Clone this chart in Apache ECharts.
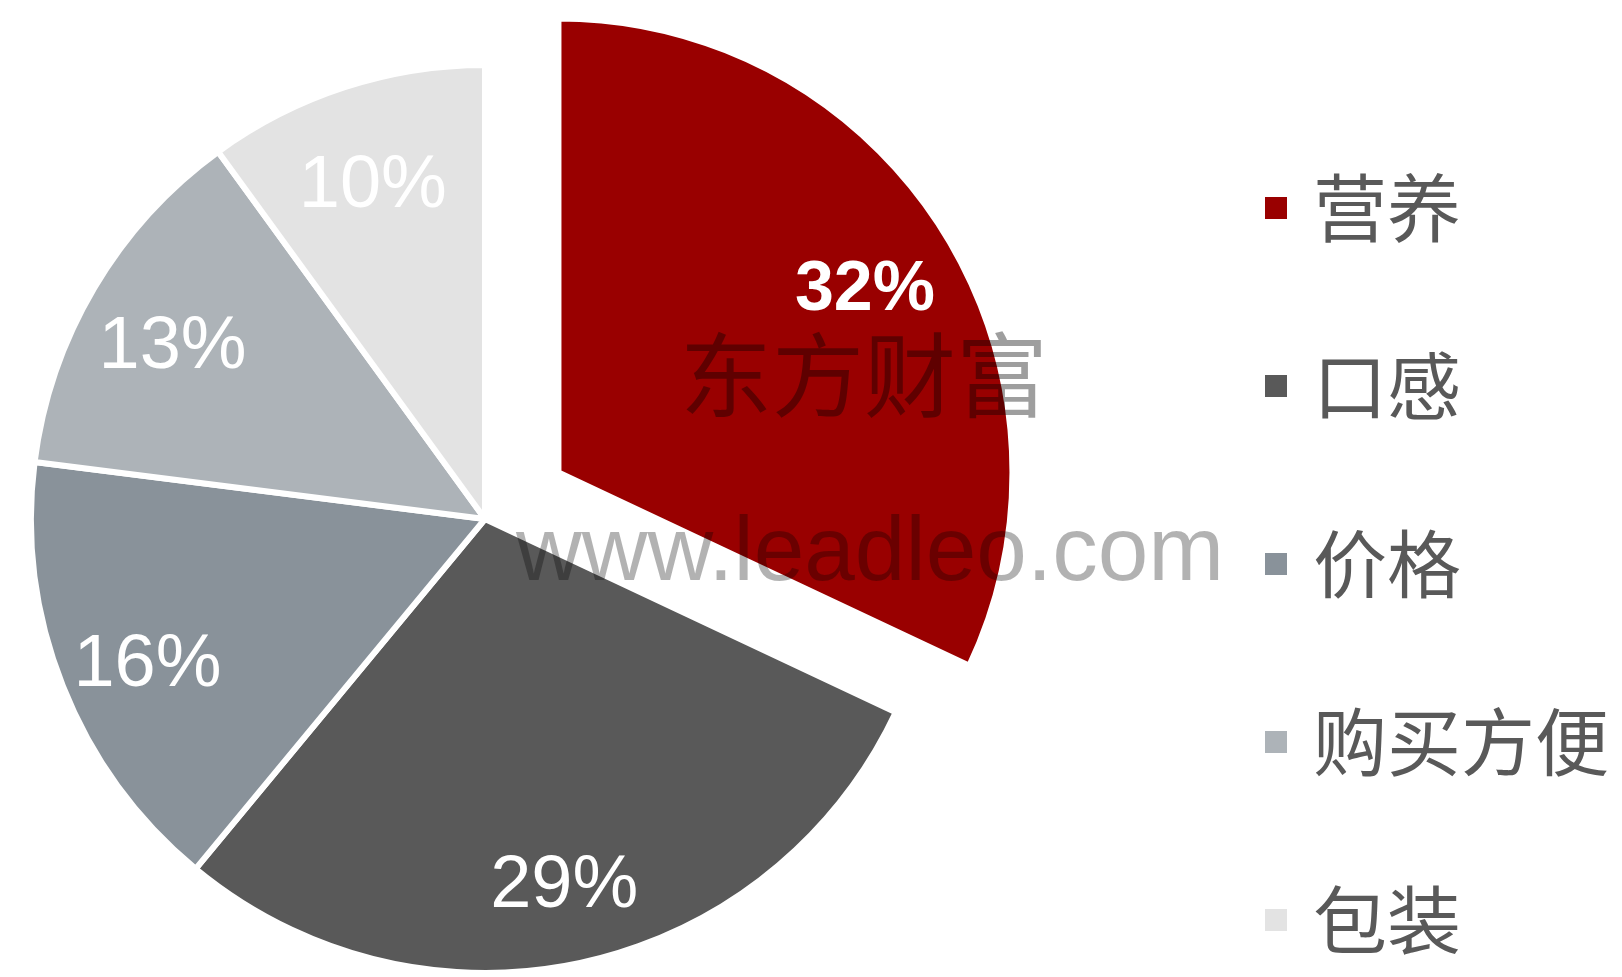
<!DOCTYPE html>
<html>
<head>
<meta charset="utf-8">
<script src="https://cdn.jsdelivr.net/npm/echarts@6/dist/echarts.min.js"></script>
<style>
  html, body { margin: 0; padding: 0; background: #fff; }
  #chart { width: 1622px; height: 977px; }
</style>
</head>
<body>
<div id="chart"></div>
<script>
// 消费者关注因素占比
var categories = ['营养', '口感', '价格', '购买方便', '包装'];
var shares = [32, 29, 16, 13, 10];
var colors = ['#990000', '#595959', '#89929a', '#adb3b8', '#e3e3e3'];

var myChart = echarts.init(document.getElementById('chart'));

var pieData = categories.map(function (name, i) {
  return { name: name, value: shares[i], selected: i === 0, itemStyle: { color: colors[i] } };
});
var labelData = categories.map(function (name, i) {
  return {
    name: name,
    value: shares[i],
    selected: i === 0,
    label: { fontWeight: i === 0 ? 'bold' : 'normal', fontSize: i === 0 ? 70 : 74 }
  };
});

var option = {
  backgroundColor: '#ffffff',
  animation: false,
  legend: {
    orient: 'vertical',
    left: 1258,
    top: 166,
    itemWidth: 24,
    itemHeight: 24,
    itemGap: 104,
    icon: 'rect',
    selectedMode: false,
    data: categories.map(function (name, i) {
      return { name: name, itemStyle: { color: colors[i] } };
    }),
    textStyle: {
      fontFamily: 'Noto Sans CJK SC',
      fontSize: 74,
      color: '#595959',
      padding: [0, 0, 0, 20]
    }
  },
  series: [
    {
      type: 'pie',
      center: [485, 519],
      radius: [0, 454],
      startAngle: 90,
      clockwise: true,
      selectedMode: 'single',
      selectedOffset: 87,
      silent: true,
      itemStyle: { borderColor: '#ffffff', borderWidth: 6 },
      label: { show: false },
      labelLine: { show: false },
      data: pieData
    },
    {
      // 只用于摆放百分比标签
      type: 'pie',
      center: [485, 532],
      radius: [266, 454],
      startAngle: 90,
      clockwise: true,
      selectedMode: 'single',
      selectedOffset: 87,
      silent: true,
      itemStyle: { color: 'rgba(0,0,0,0)' },
      label: {
        show: true,
        position: 'inside',
        formatter: '{c}%',
        color: '#ffffff',
        fontFamily: 'Liberation Sans, Arial, sans-serif',
        fontSize: 74
      },
      labelLine: { show: false },
      data: labelData
    }
  ],
  graphic: [
    {
      type: 'text',
      left: 680,
      top: 329,
      z: 100,
      style: {
        text: '东方财富',
        font: '92px "Noto Sans CJK SC"',
        fill: 'rgba(0,0,0,0.38)'
      }
    },
    {
      type: 'text',
      left: 516,
      top: 509,
      z: 100,
      style: {
        text: 'www.leadleo.com',
        font: '91px "Liberation Sans"',
        fill: 'rgba(0,0,0,0.3)'
      }
    }
  ]
};

myChart.setOption(option);
window.addEventListener('resize', function () {
  myChart.resize();
});
</script>
</body>
</html>
